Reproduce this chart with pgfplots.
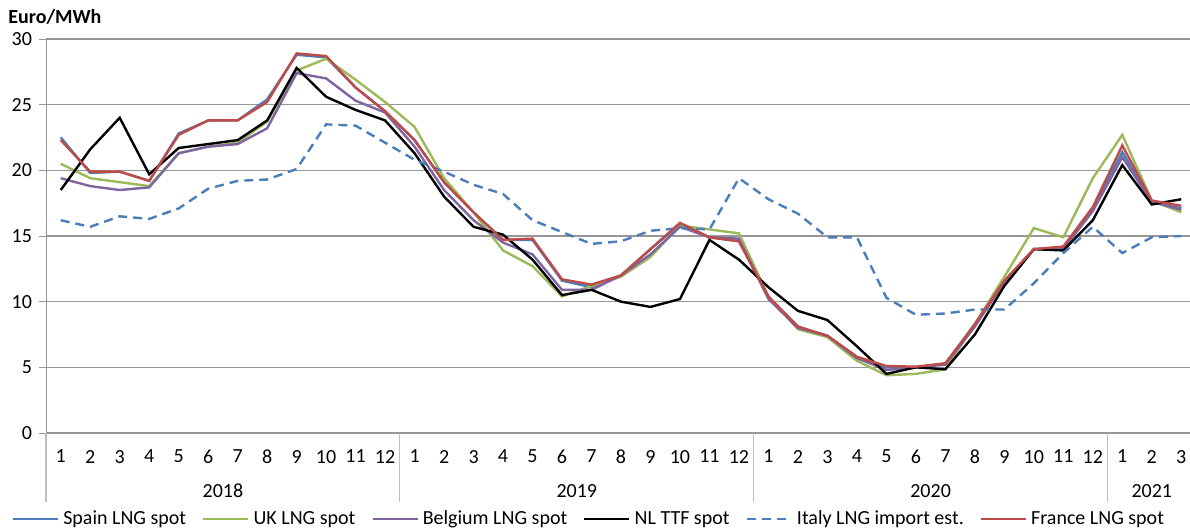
\documentclass[border=0pt]{standalone}
\usepackage{fontspec}
\setmainfont{Carlito}
\usepackage{pgfplots}
\usepackage{pgfplotstable}
\pgfplotsset{compat=1.18}

\definecolor{spain}{HTML}{4A7EBB}
\definecolor{uk}{HTML}{9BBB59}
\definecolor{belgium}{HTML}{8064A2}
\definecolor{italy}{HTML}{4A7EBB}
\definecolor{france}{HTML}{BE4B48}
\definecolor{gridgray}{RGB}{150,150,150}
\definecolor{sepgray}{RGB}{190,190,190}

% month index, then one column per series
\pgfplotstableread{
m  spain uk   belg nl   italy france
1  22.5  20.5 19.4 18.5 16.2  22.3
2  19.8  19.4 18.8 21.6 15.7  19.9
3  19.9  19.1 18.5 24.0 16.5  19.9
4  19.2  18.8 18.7 19.7 16.3  19.2
5  22.8  21.3 21.3 21.7 17.1  22.7
6  23.8  21.8 21.8 22.0 18.6  23.8
7  23.8  22.1 22.0 22.3 19.2  23.8
8  25.4  23.7 23.2 23.8 19.3  25.2
9  28.8  27.6 27.4 27.8 20.1  28.9
10 28.6  28.5 27.0 25.6 23.5  28.7
11 26.3  26.9 25.3 24.6 23.4  26.3
12 24.5  25.2 24.4 23.8 22.1  24.5
13 22.3  23.3 21.8 21.3 20.8  22.3
14 19.1  19.4 18.5 18.0 19.9  19.1
15 16.8  16.8 16.2 15.7 18.9  16.8
16 14.7  13.9 14.5 15.1 18.2  14.7
17 14.7  12.7 13.6 13.2 16.2  14.8
18 11.6  10.4 10.9 10.5 15.3  11.7
19 11.1  11.2 10.9 10.9 14.4  11.3
20 12.0  11.9 12.0 10.0 14.6  12.0
21 14.0  13.4 13.6 9.6  15.4  14.0
22 15.9  15.8 15.7 10.2 15.6  16.0
23 14.9  15.5 14.9 14.7 15.5  14.9
24 14.6  15.2 14.8 13.2 19.4  14.6
25 10.3  10.4 10.2 11.1 17.8  10.4
26 8.1   7.9  8.0  9.3  16.7  8.1
27 7.4   7.3  7.4  8.6  14.9  7.4
28 5.8   5.5  5.7  6.6  14.9  5.8
29 5.0   4.4  4.8  4.5  10.3  5.1
30 5.0   4.5  5.0  5.0  9.0   5.05
31 5.3   4.85 5.2  4.85 9.1   5.3
32 8.2   8.3  8.1  7.5  9.4   8.3
33 11.5  11.9 11.5 11.2 9.4   11.6
34 14.0  15.6 14.0 14.0 11.4  14.0
35 14.1  14.9 14.0 13.9 13.7  14.2
36 17.1  19.4 16.9 16.2 15.7  17.2
37 21.4  22.7 21.0 20.4 13.7  21.9
38 17.6  17.7 17.6 17.4 14.9  17.7
39 17.1  16.8 17.0 17.8 15.0  17.3
}\prices

\begin{document}
\begin{tikzpicture}
\begin{axis}[
    name=ax,
    scale only axis,
    width=575pt,
    height=197pt,
    xmin=0.5, xmax=39.5,
    ymin=0, ymax=30,
    ytick={0,5,...,30},
    xtick={1,...,39},
    xticklabels={1,2,3,4,5,6,7,8,9,10,11,12,1,2,3,4,5,6,7,8,9,10,11,12,1,2,3,4,5,6,7,8,9,10,11,12,1,2,3},
    axis lines=left,
    axis line style={-, draw=gridgray},
    ymajorgrids=true,
    grid style={gridgray, line width=0.6pt},
    xtick style={draw=none},
    ytick style={draw=gridgray},
    tick align=outside,
    major tick length=3.5pt,
    ytick pos=left,
    xticklabel style={yshift=-1.5pt},
    /pgf/number format/assume math mode=true,
    clip=false,
    legend columns=6,
    legend style={draw=none, fill=none, at={(0.473,-0.219)}, anchor=center,
        font=\normalsize,
        /tikz/every even column/.append style={column sep=6pt}},
    legend image code/.code={\draw[#1] (0pt,0pt) -- (22.5pt,0pt);},
]
\addplot[spain, line width=1.2pt] table[x=m, y=spain] {\prices};
\addplot[uk, line width=1.2pt] table[x=m, y=uk] {\prices};
\addplot[belgium, line width=1.2pt] table[x=m, y=belg] {\prices};
\addplot[black, line width=1.2pt] table[x=m, y=nl] {\prices};
\addplot[italy, line width=1.2pt, dash pattern=on 4.5pt off 3pt] table[x=m, y=italy] {\prices};
\addplot[france, line width=1.2pt] table[x=m, y=france] {\prices};
\legend{Spain LNG spot, UK LNG spot, Belgium LNG spot, NL TTF spot, Italy LNG import est., France LNG spot}

% year group separators under the category axis
\pgfplotsinvokeforeach{0.5,12.5,24.5,36.5}{
    \draw[sepgray, line width=0.6pt] (axis cs:#1,0) -- ++(0pt,-34.5pt);
}
\node at (axis cs:6.5,0) [yshift=-29pt] {2018};
\node at (axis cs:18.5,0) [yshift=-29pt] {2019};
\node at (axis cs:30.5,0) [yshift=-29pt] {2020};
\node at (axis cs:38,0) [yshift=-29pt] {2021};
\node[anchor=west, font=\bfseries, inner sep=0pt] at (rel axis cs:0,1) [xshift=-19pt, yshift=11pt] {Euro/MWh};
\end{axis}
\pgfresetboundingbox
\path[use as bounding box] ([xshift=-23pt,yshift=-48pt]ax.south west) rectangle ([xshift=-3pt,yshift=19.5pt]ax.north east);
\end{tikzpicture}
\end{document}
